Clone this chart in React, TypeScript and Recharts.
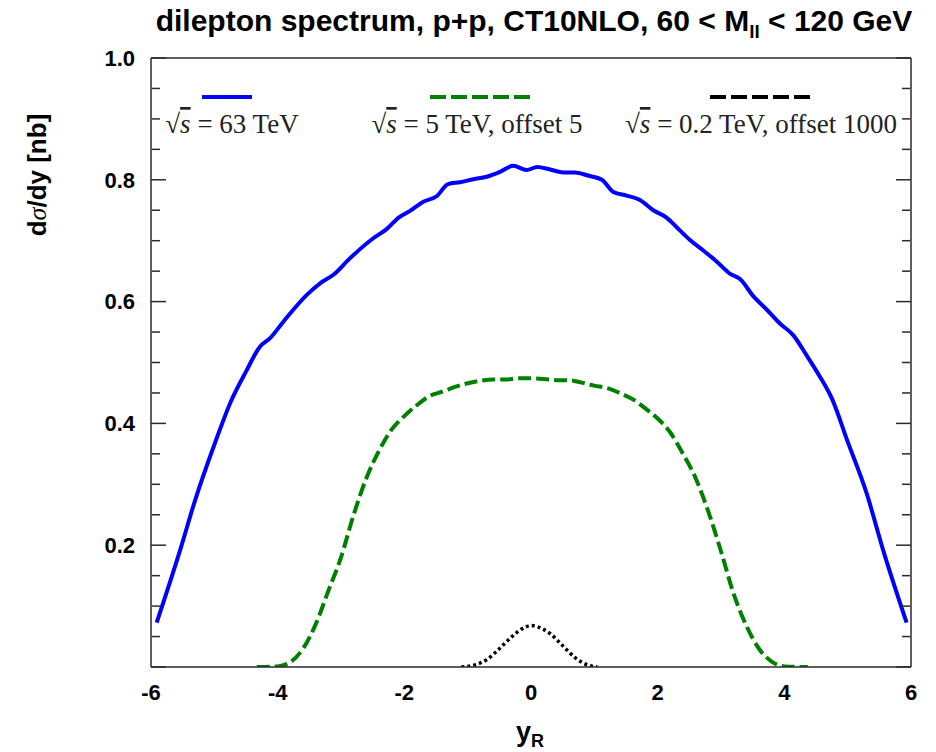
import React from 'react';
import { ComposedChart, Line, XAxis, YAxis } from 'recharts';

// 63 TeV (blue, solid)
const rap63 = [-5.91,-5.54,-5.3,-5.0,-4.73,-4.5,-4.28,-4.12,-3.91,-3.54,-3.33,-3.12,-2.86,-2.49,-2.28,-2.09,-1.91,-1.70,-1.49,-1.31,-1.12,-0.91,-0.70,-0.49,-0.28,-0.07,0.10,0.30,0.51,0.69,0.90,1.12,1.30,1.51,1.72,1.93,2.14,2.32,2.51,2.72,2.93,3.14,3.30,3.51,3.72,3.93,4.14,4.35,4.56,4.75,5.0,5.3,5.56,5.93];
const xs63 = [0.073,0.192,0.275,0.365,0.438,0.485,0.526,0.540,0.567,0.611,0.630,0.644,0.671,0.704,0.719,0.738,0.749,0.764,0.773,0.793,0.796,0.801,0.805,0.813,0.823,0.816,0.821,0.817,0.812,0.812,0.807,0.800,0.780,0.774,0.767,0.750,0.738,0.720,0.701,0.684,0.666,0.646,0.637,0.609,0.587,0.564,0.545,0.512,0.477,0.441,0.370,0.285,0.192,0.073];

// 5 TeV, offset 5 (green, dashed)
const rap5 = [-4.33,-4.0,-3.8,-3.6,-3.4,-3.2,-3.0,-2.8,-2.6,-2.4,-2.2,-2.0,-1.8,-1.6,-1.4,-1.2,-1.0,-0.8,-0.6,-0.4,-0.2,0.0,0.2,0.4,0.6,0.8,1.0,1.2,1.4,1.6,1.8,2.0,2.2,2.4,2.6,2.8,3.0,3.2,3.4,3.6,3.8,4.0,4.37];
const xs5 = [0,0.001,0.008,0.03,0.07,0.125,0.18,0.25,0.31,0.355,0.39,0.412,0.43,0.445,0.452,0.46,0.466,0.47,0.472,0.472,0.474,0.474,0.473,0.471,0.471,0.467,0.462,0.458,0.45,0.44,0.425,0.408,0.385,0.35,0.31,0.255,0.19,0.12,0.068,0.03,0.009,0.001,0];

// 0.2 TeV, offset 1000 (black, dotted)
const rap02 = [-1.1,-0.9,-0.7,-0.5,-0.3,-0.1,0.0,0.1,0.3,0.5,0.7,0.9,1.05];
const xs02 = [0,0.003,0.012,0.03,0.05,0.065,0.068,0.066,0.055,0.035,0.015,0.003,0];

const xMajor = [-6,-4,-2,0,2,4,6];
const xMinor = [-5,-3,-1,1,3,5];
const xTiny = [-5.8,-5.6,-5.4,-5.2,-4.8,-4.6,-4.4,-4.2,-3.8,-3.6,-3.4,-3.2,-2.8,-2.6,-2.4,-2.2,-1.8,-1.6,-1.4,-1.2,-0.8,-0.6,-0.4,-0.2,0.2,0.4,0.6,0.8,1.2,1.4,1.6,1.8,2.2,2.4,2.6,2.8,3.2,3.4,3.6,3.8,4.2,4.4,4.6,4.8,5.2,5.4,5.6,5.8];
const yLabels = [0.2,0.4,0.6,0.8,1.0];
const yMajor = [0,0.2,0.4,0.6,0.8,1.0];
const yMinor = [0.05,0.1,0.15,0.25,0.3,0.35,0.45,0.5,0.55,0.65,0.7,0.75,0.85,0.9,0.95];

const toRows = (xs: number[], ys: number[]) => xs.map((x, i) => ({ x, y: ys[i] }));
const d63 = toRows(rap63, xs63);
const d5 = toRows(rap5, xs5);
const d02 = toRows(rap02, xs02);

const AX = '#2a2a2a';
const SANS = 'Liberation Sans, Arial, sans-serif';
const tickFont = { fontFamily: SANS, fontWeight: 700, fontSize: 22, fill: '#000' };
const blank = () => '';

export default function App() {
  return (
    <div style={{ position: 'relative', width: 920, height: 744 }}>
      <ComposedChart width={920} height={744} margin={{ top: 50, right: 17, bottom: 45, left: 63 }}>
        <XAxis xAxisId="main" dataKey="x" type="number" domain={[-6, 6]} ticks={xMajor} allowDataOverflow
          height={40} tickLine={false} axisLine={false} tickSize={0} tickMargin={17} tick={tickFont} />
        <XAxis xAxisId="bMaj" type="number" domain={[-6, 6]} ticks={xMajor} allowDataOverflow mirror height={1}
          tickSize={15} tickFormatter={blank} stroke={AX} strokeWidth={1.5} />
        <XAxis xAxisId="bMin" type="number" domain={[-6, 6]} ticks={xMinor} allowDataOverflow mirror height={1}
          tickSize={7} tickFormatter={blank} axisLine={false} stroke={AX} strokeWidth={1.5} />
        <XAxis xAxisId="tMaj" orientation="top" type="number" domain={[-6, 6]} ticks={xMajor} allowDataOverflow mirror height={1}
          tickSize={15} tickFormatter={blank} stroke={AX} strokeWidth={1.5} />
        <XAxis xAxisId="tMin" orientation="top" type="number" domain={[-6, 6]} ticks={xMinor} allowDataOverflow mirror height={1}
          tickSize={7} tickFormatter={blank} axisLine={false} stroke={AX} strokeWidth={1.5} />
        <XAxis xAxisId="tTiny" orientation="top" type="number" domain={[-6, 6]} ticks={xTiny} allowDataOverflow mirror height={1}
          tickSize={2} tickFormatter={blank} axisLine={false} stroke={AX} />

        <YAxis yAxisId="main" type="number" domain={[0, 1]} ticks={yLabels} allowDataOverflow width={80}
          tickLine={false} axisLine={false} tickSize={0} tickMargin={16} tick={tickFont}
          tickFormatter={(v: number) => v.toFixed(1)} />
        <YAxis yAxisId="lMaj" type="number" domain={[0, 1]} ticks={yMajor} allowDataOverflow mirror width={1}
          tickSize={15} tickFormatter={blank} stroke={AX} strokeWidth={1.5} />
        <YAxis yAxisId="lMin" type="number" domain={[0, 1]} ticks={yMinor} allowDataOverflow mirror width={1}
          tickSize={8} tickFormatter={blank} axisLine={false} stroke={AX} strokeWidth={1.5} />
        <YAxis yAxisId="rMaj" orientation="right" type="number" domain={[0, 1]} ticks={yMajor} allowDataOverflow mirror width={1}
          tickSize={15} tickFormatter={blank} stroke={AX} strokeWidth={1.5} />
        <YAxis yAxisId="rMin" orientation="right" type="number" domain={[0, 1]} ticks={yMinor} allowDataOverflow mirror width={1}
          tickSize={8} tickFormatter={blank} axisLine={false} stroke={AX} strokeWidth={1.5} />

        <Line xAxisId="main" yAxisId="main" data={d63} dataKey="y" type="monotone" stroke="#0000ff" strokeWidth={4}
          dot={false} isAnimationActive={false} />
        <Line xAxisId="main" yAxisId="main" data={d5} dataKey="y" type="monotone" stroke="#008000" strokeWidth={4}
          strokeDasharray="13 5" dot={false} isAnimationActive={false} />
        <Line xAxisId="main" yAxisId="main" data={d02} dataKey="y" type="monotone" stroke="#000" strokeWidth={3.5}
          strokeDasharray="3 3" dot={false} isAnimationActive={false} />
      </ComposedChart>

      <svg width={936} height={752} style={{ position: 'absolute', left: -8, top: -8, pointerEvents: 'none' }}>
        <text x={534} y={31} textAnchor="middle" fontFamily={SANS} fontWeight={700} fontSize={30} fill="#000">
          dilepton spectrum, p+p, CT10NLO, 60 &lt; M<tspan fontSize={19} dy={7}>ll</tspan><tspan dy={-7}> &lt; 120 GeV</tspan>
        </text>
        <text transform="translate(46,175) rotate(-90)" textAnchor="middle" fontFamily={SANS} fontWeight={700} fontSize={26} fill="#000">
          d<tspan fontFamily="Liberation Serif, serif" fontStyle="italic" fontWeight={400}>σ</tspan>/dy [nb]
        </text>
        <text x={530} y={741} textAnchor="middle" fontFamily={SANS} fontWeight={700} fontSize={27} fill="#000">
          y<tspan fontSize={18} dy={6}>R</tspan>
        </text>

        <line x1={202} x2={252} y1={97} y2={97} stroke="#0000ff" strokeWidth={4} />
        <line x1={430} x2={532} y1={97} y2={97} stroke="#008000" strokeWidth={4} strokeDasharray="16 5" />
        <line x1={710} x2={812} y1={97} y2={97} stroke="#000" strokeWidth={4} strokeDasharray="16 5" />

        <g fontFamily="Liberation Serif, serif" fontSize={27} fill="#222">
          <text x={232} y={133} textAnchor="middle">√<tspan fontStyle="italic" style={{ textDecoration: 'overline' }}>s</tspan> = 63 TeV</text>
          <text x={477} y={133} textAnchor="middle">√<tspan fontStyle="italic" style={{ textDecoration: 'overline' }}>s</tspan> = 5 TeV, offset 5</text>
          <text x={761} y={133} textAnchor="middle">√<tspan fontStyle="italic" style={{ textDecoration: 'overline' }}>s</tspan> = 0.2 TeV, offset 1000</text>
        </g>
      </svg>
    </div>
  );
}
